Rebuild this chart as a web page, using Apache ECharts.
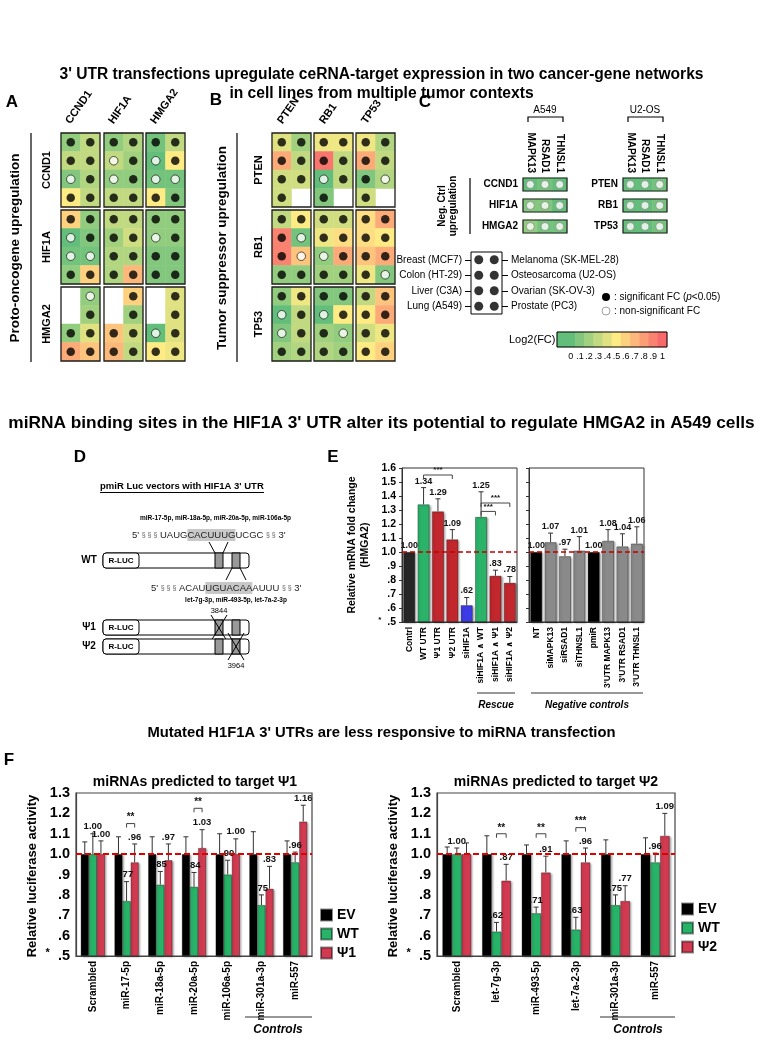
<!DOCTYPE html>
<html><head><meta charset="utf-8">
<script src="https://cdn.jsdelivr.net/npm/echarts@6/dist/echarts.min.js"></script>
<style>html,body{margin:0;padding:0;background:#fff}#c{width:763px;height:1057px}</style>
</head><body><div id="c"></div><script>
// ================= DATA =================
const oncoGenes = ['CCND1', 'HIF1A', 'HMGA2'];
const suppGenes = ['PTEN', 'RB1', 'TP53'];
const cellLinesLeft = ['Breast (MCF7)', 'Colon (HT-29)', 'Liver (C3A)', 'Lung (A549)'];
const cellLinesRight = ['Melanoma (SK-MEL-28)', 'Osteosarcoma (U2-OS)', 'Ovarian (SK-OV-3)', 'Prostate (PC3)'];

// log2(FC) per block [transfected 3'UTR][target] -> 4 rows x 2 cell-line columns; -1 = negative (grey), null = not measured
const panelA_FC = [
  [ [[0.15,0.30],[0.30,0.30],[0.10,0.25],[0.50,0.30]],
    [[0.15,0.25],[0.30,0.20],[0.15,0.15],[0.30,0.30]],
    [[0.05,0.30],[-1,0.50],[0.05,0.05],[0.50,0.10]] ],
  [ [[0.60,0.15],[-1,0.10],[0.05,0.05],[0.15,0.60]],
    [[0.30,0.30],[0.20,0.35],[0.25,0.25],[0.25,0.70]],
    [[0.15,0.15],[0.15,0.15],[0.10,0.10],[0.10,0.10]] ],
  [ [[null,0.15],[null,0.20],[0.15,0.40],[0.75,0.65]],
    [[null,0.60],[null,0.20],[0.65,0.35],[0.70,0.30]],
    [[null,0.40],[null,0.40],[-1,0.40],[0.50,0.45]] ]
];
// 1 = significant (filled), 0 = non-significant (open), null = none
const panelA_sig = [
  [ [[1,1],[1,1],[0,1],[1,1]], [[1,1],[0,1],[0,1],[1,1]], [[1,1],[0,1],[0,0],[1,1]] ],
  [ [[1,1],[0,1],[0,0],[1,1]], [[1,1],[1,1],[1,1],[1,1]], [[1,1],[0,1],[1,1],[1,1]] ],
  [ [[null,0],[null,1],[1,1],[1,1]], [[null,1],[null,1],[1,1],[1,1]], [[null,1],[null,1],[0,1],[1,1]] ]
];
const panelB_FC = [
  [ [[0.40,0.20],[0.75,0.30],[0.35,0.35],[0.35,null]],
    [[0.45,0.45],[0.95,0.30],[-1,0.30],[0.10,null]],
    [[0.45,0.25],[0.75,0.30],[0.10,0.25],[0.35,null]] ],
  [ [[0.30,0.50],[0.90,0.05],[0.90,0.65],[0.15,0.15]],
    [[0.35,0.35],[0.45,0.55],[0.15,0.75],[0.20,0.20]],
    [[0.55,0.75],[0.55,0.50],[0.65,0.75],[0.45,0.10]] ],
  [ [[0.15,0.45],[-1,0.30],[0.10,0.30],[0.20,0.25]],
    [[0.10,0.10],[-1,0.50],[0.20,0.15],[0.25,0.20]],
    [[0.30,0.65],[0.50,0.75],[0.35,0.45],[0.50,0.60]] ]
];
const panelB_sig = [
  [ [[1,1],[1,1],[1,1],[1,null]], [[1,1],[1,1],[0,1],[1,null]], [[1,1],[1,1],[1,0],[1,null]] ],
  [ [[1,1],[1,0],[1,0],[1,1]], [[1,1],[1,1],[0,1],[1,1]], [[1,1],[1,1],[1,1],[1,0]] ],
  [ [[1,1],[0,1],[0,1],[1,1]], [[1,1],[0,1],[1,0],[1,1]], [[1,1],[1,1],[1,1],[1,1]] ]
];
const negCtrlTargets = ['MAPK13', 'RSAD1', 'THNSL1'];
const negA549Genes = ['CCND1', 'HIF1A', 'HMGA2'];
const negU2OSGenes = ['PTEN', 'RB1', 'TP53'];
const negA549_FC = [[-1,0.05,-1],[0.10,0.10,-1],[0.15,0.05,0.05]];
const negU2OS_FC = [[-1,-1,0.05],[-1,-1,0.05],[-1,-1,0.05]];
const negA549_sig = [[0,0,0],[0,0,0],[0,0,0]];
const negU2OS_sig = [[0,0,0],[0,0,0],[0,0,0]];
const colorbarLabels = ['', '0', '.1', '.2', '.3', '.4', '.5', '.6', '.7', '.8', '.9', '1'];
const colorbarValues = [-1, 0, 0.1, 0.2, 0.3, 0.4, 0.5, 0.6, 0.7, 0.8, 0.9, 1];

// Panel E
const eLeftCats = ['Contrl', 'WT UTR', 'Ψ1 UTR', 'Ψ2 UTR', 'siHIF1A', 'siHIF1A ∧ WT', 'siHIF1A ∧ Ψ1', 'siHIF1A ∧ Ψ2'];
const eLeftValues = [1.00, 1.34, 1.29, 1.09, 0.62, 1.25, 0.83, 0.78];
const eLeftErrTop = [null, 1.46, 1.38, 1.16, 0.675, 1.43, 0.87, 0.825];
const eRightCats = ['NT', 'siMAPK13', 'siRSAD1', 'siTHNSL1', 'pmiR', "3'UTR MAPK13", "3'UTR RSAD1", "3'UTR THNSL1"];
const eRightValues = [1.00, 1.07, 0.97, 1.01, 1.00, 1.08, 1.04, 1.06];
const eRightErrTop = [null, 1.135, 1.02, 1.11, null, 1.16, 1.13, 1.18];
const eBrackets = [[1, 3, 1.55, '***'], [5, 7, 1.35, '***'], [5, 6, 1.29, '***']];

// Panel F
const f1Cats = ['Scrambled', 'miR-17-5p', 'miR-18a-5p', 'miR-20a-5p', 'miR-106a-5p', 'miR-301a-3p', 'miR-557'];
const f1EV = [1.00, 1.00, 1.00, 1.00, 1.00, 1.00, 1.00];
const f1EVErr = [1.06, 1.085, 1.085, 1.085, 1.10, 1.11, 1.065];
const f1WT = [1.00, 0.77, 0.85, 0.84, 0.90, 0.75, 0.96];
const f1WTErr = [1.10, 0.865, 0.915, 0.91, 0.97, 0.80, 1.01];
const f1Psi = [1.00, 0.96, 0.97, 1.03, 1.00, 0.83, 1.16];
const f1PsiErr = [1.065, 1.05, 1.05, 1.12, 1.075, 0.94, 1.24];
const f1Brackets = [[1, 1.15, '**'], [3, 1.225, '**']];
const f2Cats = ['Scrambled', 'let-7g-3p', 'miR-493-5p', 'let-7a-2-3p', 'miR-301a-3p', 'miR-557'];
const f2EV = [1.00, 1.00, 1.00, 1.00, 1.00, 1.00];
const f2EVErr = [1.035, 1.09, 1.045, 1.065, 1.07, 1.08];
const f2WT = [1.00, 0.62, 0.71, 0.63, 0.75, 0.96];
const f2WTErr = [1.03, 0.665, 0.74, 0.69, 0.80, 1.005];
const f2Psi = [1.00, 0.87, 0.91, 0.96, 0.77, 1.09];
const f2PsiErr = [1.055, 0.95, 0.99, 1.03, 0.845, 1.20];
const f2Brackets = [[1, 1.10, '**'], [2, 1.10, '**'], [3, 1.13, '***']];

// ================= BUILD =================
const FONT = "'Liberation Sans', Arial, 'DejaVu Sans', sans-serif";
const grids = [], xAxes = [], yAxes = [], series = [], heatIdx = [], graphics = [];
function addGrid(g) { grids.push(Object.assign({ outerBoundsMode: 'none', containLabel: false }, g)); return grids.length - 1; }
function addX(a) { xAxes.push(a); return xAxes.length - 1; }
function addY(a) { yAxes.push(a); return yAxes.length - 1; }

function T(x, y, text, o) {
  o = o || {};
  const al = o.align || 'center', va = o.va || 'middle';
  return { type: 'text', x, y, rotation: o.rot || 0, silent: true, z: 100,
    style: Object.assign({ text, fill: o.color || '#000', fontFamily: FONT, fontSize: o.size || 10,
      fontWeight: o.weight || 'normal', fontStyle: o.italic ? 'italic' : 'normal',
      align: al, verticalAlign: va, textAlign: al, textVerticalAlign: va }, o.style || {}) };
}
function L(x1, y1, x2, y2, w, c) { return { type: 'line', silent: true, z: 100, shape: { x1, y1, x2, y2 }, style: { stroke: c || '#000', lineWidth: w || 1 } }; }
function R(x, y, w, h, fill, stroke, r, lw) { return { type: 'rect', silent: true, z: 100, shape: { x, y, width: w, height: h, r: r || 0 }, style: { fill, stroke, lineWidth: lw || 1 } }; }
function P(points, c, w) { return { type: 'polyline', silent: true, z: 100, shape: { points }, style: { stroke: c || '#000', lineWidth: w || 1, fill: null } }; }

const filledDot = { color: '#000' };
function openDot(bc) { return { color: '#fff', borderColor: bc, borderWidth: 0.8 }; }

function heatBlock(box, fc, sig, opts) {
  opts = opts || {};
  const gi = addGrid({ left: box[0], top: box[1], width: box[2], height: box[3], show: true,
    borderColor: '#1e1e1e', borderWidth: opts.bw || 1.3, backgroundColor: 'transparent', z: 6 });
  const nR = fc.length, nC = fc[0].length;
  const xi = addX(Object.assign({ gridIndex: gi, type: 'category', data: Array.from({ length: nC }, (_, i) => 'c' + i), show: false }, opts.x || {}));
  const yi = addY(Object.assign({ gridIndex: gi, type: 'category', data: Array.from({ length: nR }, (_, i) => 'r' + i), inverse: true, show: false }, opts.y || {}));
  const hd = [], sd = [];
  fc.forEach((row, r) => row.forEach((v, c) => {
    if (v !== null) hd.push([c, r, v]);
    const s = sig[r][c];
    if (s !== null && s !== undefined) sd.push({ value: [c, r], itemStyle: s ? filledDot : openDot(opts.openColor || '#000') });
  }));
  series.push({ type: 'heatmap', xAxisIndex: xi, yAxisIndex: yi, data: hd, silent: true, emphasis: { disabled: true }, itemStyle: { borderWidth: 0 } });
  heatIdx.push(series.length - 1);
  series.push({ type: 'scatter', xAxisIndex: xi, yAxisIndex: yi, data: sd, symbol: 'circle', symbolSize: opts.dot || 8.5, silent: true, z: 4 });
}

// ---------- Panels A & B ----------
const blockW = 39, blockH = 74;
const blockTops = [133, 210, 287];
const aLefts = [61, 104, 146];
const bLefts = [272, 314, 356];
for (let r = 0; r < 3; r++) for (let c = 0; c < 3; c++) {
  heatBlock([aLefts[c], blockTops[r], blockW, blockH], panelA_FC[r][c], panelA_sig[r][c]);
  heatBlock([bLefts[c], blockTops[r], blockW, blockH], panelB_FC[r][c], panelB_sig[r][c]);
}
const rot55 = 55 * Math.PI / 180;
oncoGenes.forEach((g, i) => {
  graphics.push(T(aLefts[i] + blockW / 2 - 8, 126, g, { size: 11, weight: 'bold', align: 'left', va: 'bottom', rot: rot55 }));
  graphics.push(T(47, blockTops[i] + blockH / 2, g, { size: 11, weight: 'bold', rot: Math.PI / 2 }));
});
suppGenes.forEach((g, i) => {
  graphics.push(T(bLefts[i] + blockW / 2 - 7, 126, g, { size: 11, weight: 'bold', align: 'left', va: 'bottom', rot: rot55 }));
  graphics.push(T(259, blockTops[i] + blockH / 2, g, { size: 11, weight: 'bold', rot: Math.PI / 2 }));
});
graphics.push(T(12, 102, 'A', { size: 17, weight: 'bold' }));
graphics.push(T(216, 100, 'B', { size: 17, weight: 'bold' }));
graphics.push(L(31, 133, 31, 362, 1.2));
graphics.push(L(237, 133, 237, 362, 1.2));
graphics.push(T(15, 248, 'Proto-oncogene upregulation', { size: 13.5, weight: 'bold', rot: Math.PI / 2 }));
graphics.push(T(222, 248, 'Tumor suppressor upregulation', { size: 13.5, weight: 'bold', rot: Math.PI / 2 }));

// ---------- Panel C ----------
graphics.push(T(425, 102, 'C', { size: 17, weight: 'bold' }));
const cTops = [178, 199, 220];
const cBox = [44, 13];
[[523, negA549Genes, negA549_FC, negA549_sig], [623, negU2OSGenes, negU2OS_FC, negU2OS_sig]].forEach(([left, genes, fc, sg]) => {
  genes.forEach((g, r) => {
    heatBlock([left, cTops[r], cBox[0], cBox[1]], [fc[r]], [sg[r]], {
      bw: 1.2, dot: 8, openColor: '#777',
      x: r === 0 ? { show: true, position: 'top', data: negCtrlTargets, axisLine: { show: false }, axisTick: { show: false },
        axisLabel: { show: true, rotate: 90, interval: 0, margin: 5, fontSize: 10, fontWeight: 'bold', color: '#000', fontFamily: FONT } } : {},
      y: { show: true, data: [g], axisLine: { show: false }, axisTick: { show: false },
        axisLabel: { show: true, margin: 5, fontSize: 10, fontWeight: 'bold', color: '#000', fontFamily: FONT } }
    });
  });
});
graphics.push(T(545, 110, 'A549', { size: 10 }));
graphics.push(P([[528, 122], [528, 117], [563, 117], [563, 122]], '#000', 1.2));
graphics.push(T(645, 110, 'U2-OS', { size: 10 }));
graphics.push(P([[628, 122], [628, 117], [663, 117], [663, 122]], '#000', 1.2));
graphics.push(L(470, 178, 470, 234, 1.2));
graphics.push(T(448, 206, 'Neg. Ctrl\nupregulation', { size: 10, weight: 'bold', rot: Math.PI / 2, style: { lineHeight: 11 } }));

// cell-line legend
{
  const gi = addGrid({ left: 471, top: 252, width: 31, height: 62, show: true, borderColor: '#000', borderWidth: 1, backgroundColor: 'transparent', z: 6 });
  const xi = addX({ gridIndex: gi, type: 'category', data: ['c0', 'c1'], show: false });
  const tickStyle = { show: true, alignWithLabel: true, length: 6, lineStyle: { color: '#000', width: 1 } };
  const lab = { fontSize: 10, color: '#000', margin: 9, fontFamily: FONT };
  const yi = addY({ gridIndex: gi, type: 'category', data: cellLinesLeft, inverse: true, axisLine: { show: false }, axisTick: tickStyle, axisLabel: lab });
  addY({ gridIndex: gi, type: 'category', position: 'right', data: cellLinesRight, inverse: true, axisLine: { show: false }, axisTick: tickStyle, axisLabel: lab });
  const d = [];
  cellLinesLeft.forEach((_, r) => { d.push([0, r]); d.push([1, r]); });
  series.push({ type: 'scatter', xAxisIndex: xi, yAxisIndex: yi, data: d, symbolSize: 9, itemStyle: { color: '#000' }, silent: true });
}
graphics.push({ type: 'circle', silent: true, z: 100, shape: { cx: 606, cy: 297, r: 4 }, style: { fill: '#000' } });
graphics.push(T(614, 297, ': significant FC ({i|p}<0.05)', { size: 10, align: 'left', style: { rich: { i: { fontStyle: 'italic', fontSize: 10, fontFamily: FONT } } } }));
graphics.push({ type: 'circle', silent: true, z: 100, shape: { cx: 606, cy: 311, r: 4 }, style: { fill: '#fff', stroke: '#888', lineWidth: 0.8 } });
graphics.push(T(614, 311, ': non-significant FC', { size: 10, align: 'left' }));

// colour bar
{
  const gi = addGrid({ left: 557, top: 332, width: 110, height: 15, show: true, borderColor: '#000', borderWidth: 1, backgroundColor: 'transparent', z: 6 });
  const xi = addX({ gridIndex: gi, type: 'category', data: colorbarLabels, axisLine: { show: false }, axisTick: { show: false },
    axisLabel: { interval: 0, fontSize: 9, margin: 5, color: '#000', fontFamily: FONT } });
  const yi = addY({ gridIndex: gi, type: 'category', data: ['v'], show: false });
  series.push({ type: 'heatmap', xAxisIndex: xi, yAxisIndex: yi, data: colorbarValues.map((v, i) => [i, 0, v]), silent: true, emphasis: { disabled: true } });
  heatIdx.push(series.length - 1);
}
graphics.push(T(509, 340, 'Log2(FC)', { size: 11, align: 'left' }));

// ---------- Panel D (schematic) ----------
const seqRich = { w: { fontSize: 7, fill: '#666', fontFamily: FONT }, h: { backgroundColor: '#c8c8c8', fontSize: 9.5, fontFamily: FONT, padding: [1, 0, 1, 0] } };
graphics.push(T(80, 457, 'D', { size: 17, weight: 'bold' }));
graphics.push(T(100, 486, "pmiR Luc vectors with HIF1A 3' UTR", { size: 9.5, weight: 'bold', align: 'left' }));
graphics.push(L(100, 492.5, 264, 492.5, 1));
graphics.push(T(140, 518, 'miR-17-5p, miR-18a-5p, miR-20a-5p, miR-106a-5p', { size: 6.5, weight: 'bold', align: 'left' }));
graphics.push(T(132, 535, "5' {w|§ § §} UAUG{h|CACUUUG}UCGC {w|§ §} 3'", { size: 9.5, align: 'left', color: '#222', style: { rich: seqRich } }));
function construct(y, label, cross) {
  graphics.push(T(89, y + 7.5, label, { size: 10, weight: 'bold' }));
  graphics.push(R(103, y, 146, 15, '#fff', '#000', 3, 1));
  graphics.push(R(103, y, 36, 15, '#fff', '#000', 3, 1));
  graphics.push(T(121, y + 7.5, 'R-LUC', { size: 8, weight: 'bold' }));
  graphics.push(R(215, y, 8, 15, '#999', '#000', 0, 1));
  graphics.push(R(232, y, 8, 15, '#999', '#000', 0, 1));
  if (cross === 1) { graphics.push(L(211, y - 5, 227, y + 21, 1)); graphics.push(L(227, y - 5, 211, y + 21, 1)); }
  if (cross === 2) { graphics.push(L(228, y - 6, 244, y + 21, 1)); graphics.push(L(244, y - 6, 228, y + 21, 1)); }
}
construct(553, 'WT', 0);
graphics.push(L(209, 542, 215, 553)); graphics.push(L(228, 542, 223, 553));
graphics.push(L(232, 568, 226, 580)); graphics.push(L(240, 568, 246, 580));
graphics.push(T(151, 588, "5' {w|§ § §} ACAU{h|UGUACAA}AUUU {w|§ §} 3'", { size: 9.5, align: 'left', color: '#222', style: { rich: seqRich } }));
graphics.push(T(236, 600, 'let-7g-3p, miR-493-5p, let-7a-2-3p', { size: 6.5, weight: 'bold' }));
construct(620, 'Ψ1', 1);
graphics.push(T(219, 611, '3844', { size: 7.5 }));
construct(639, 'Ψ2', 2);
graphics.push(T(236, 666, '3964', { size: 7.5 }));

// ---------- Bars helpers ----------
const fmtVal = v => v >= 1 ? v.toFixed(2) : v.toFixed(2).replace(/^0/, '');
const yFmt = v => { const r = Math.round(v * 10) / 10; if (r >= 1) return r.toFixed(1); if (Math.abs(r - 0.5) < 1e-9) return '{s|*}  .5'; return '.' + Math.round(r * 10); };
const barFx = { borderColor: 'rgba(0,0,0,0.45)', borderWidth: 0.7, shadowColor: 'rgba(0,0,0,0.35)', shadowBlur: 2, shadowOffsetX: 1.5, shadowOffsetY: 1 };

function errorSeries(xi, yi, values, errs, k, n, gap, fontSize, showLabel) {
  const data = values.map((v, i) => [i, v, errs[i] == null ? v : errs[i], errs[i] == null ? 0 : 1]);
  return { type: 'custom', xAxisIndex: xi, yAxisIndex: yi, silent: true, z: 6, clip: false, data,
    renderItem(params, api) {
      const i = api.value(0), v = api.value(1), e = api.value(2), has = api.value(3);
      const band = api.size([1, 0])[0];
      const bw = band * (1 - gap) / n;
      const p = api.coord([i, v]);
      const cx = p[0] + (k - (n - 1) / 2) * bw;
      const ye = api.coord([i, e])[1];
      const ch = [];
      if (has) {
        ch.push({ type: 'line', shape: { x1: cx, y1: p[1], x2: cx, y2: ye }, style: { stroke: '#333', lineWidth: 1 } });
        ch.push({ type: 'line', shape: { x1: cx - 2.5, y1: ye, x2: cx + 2.5, y2: ye }, style: { stroke: '#333', lineWidth: 1 } });
      }
      if (showLabel[params.dataIndex]) {
        ch.push({ type: 'text', x: cx, y: ye - 2, style: { text: fmtVal(v), fill: '#111', fontSize, fontWeight: 'bold', fontFamily: FONT,
          align: 'center', verticalAlign: 'bottom', textAlign: 'center', textVerticalAlign: 'bottom' } });
      }
      return { type: 'group', children: ch };
    } };
}
function bracketSeries(xi, yi, list, n, gap, kA, kB, fontSize) {
  return { type: 'custom', xAxisIndex: xi, yAxisIndex: yi, silent: true, z: 6, clip: false,
    data: list.map(b => [b[0], b[1], b[2]]),
    renderItem(params, api) {
      const c1 = api.value(0), c2 = api.value(1), y = api.value(2);
      const band = api.size([1, 0])[0];
      const bw = band * (1 - gap) / n;
      const x1 = api.coord([c1, y])[0] + (kA - (n - 1) / 2) * bw;
      const x2 = api.coord([c2, y])[0] + (kB - (n - 1) / 2) * bw;
      const yy = api.coord([c1, y])[1];
      return { type: 'group', children: [
        { type: 'polyline', shape: { points: [[x1, yy + 4], [x1, yy], [x2, yy], [x2, yy + 4]] }, style: { stroke: '#444', lineWidth: 1, fill: null } },
        { type: 'text', x: (x1 + x2) / 2, y: yy - 1, style: { text: list[params.dataIndex][3], fill: '#111', fontSize, fontWeight: 'bold', fontFamily: FONT,
          align: 'center', verticalAlign: 'bottom', textAlign: 'center', textVerticalAlign: 'bottom' } }
      ] };
    } };
}
const redLine = (color, w, type) => ({ silent: true, symbol: ['none', 'none'], label: { show: false }, z: 8,
  lineStyle: { color, width: w, type }, data: [{ yAxis: 1 }] });

// ---------- Panel E ----------
graphics.push(T(333, 457, 'E', { size: 17, weight: 'bold' }));
const eColorsL = ['#262626', '#2bb36a', '#c1272d', '#c1272d', '#3c3ce6', '#2bb36a', '#c1272d', '#c1272d'];
const eColorsR = ['#000', '#8a8a8a', '#8a8a8a', '#8a8a8a', '#000', '#8a8a8a', '#8a8a8a', '#8a8a8a'];
const eGap = 0.17;
[[402, eLeftCats, eLeftValues, eLeftErrTop, eColorsL, true], [529, eRightCats, eRightValues, eRightErrTop, eColorsR, false]].forEach(([left, cats, vals, errs, cols, first]) => {
  const gi = addGrid({ left, top: 468, width: 115, height: 154, show: true, borderColor: '#333', borderWidth: 1, backgroundColor: 'transparent', z: 7 });
  const xi = addX({ gridIndex: gi, type: 'category', data: cats, axisTick: { show: false }, axisLine: { lineStyle: { color: '#333' } },
    axisLabel: { rotate: 90, interval: 0, fontSize: 8.5, fontWeight: 'bold', color: '#000', margin: 5, fontFamily: FONT } });
  const yi = addY({ gridIndex: gi, type: 'value', min: 0.5, max: 1.6, interval: 0.1, splitLine: { show: false },
    axisLine: { show: true, lineStyle: { color: '#333' } }, axisTick: { show: true, length: 3, lineStyle: { color: '#333' } },
    axisLabel: { show: first, fontSize: 10.5, fontWeight: 'bold', color: '#000', margin: 6, fontFamily: FONT, formatter: yFmt,
      rich: { s: { fontSize: 8, fontWeight: 'bold', fontFamily: FONT, padding: [0, 0, 4, 0] } } } });
  series.push({ type: 'bar', name: 'E' + left, xAxisIndex: xi, yAxisIndex: yi, data: vals, barCategoryGap: (eGap * 100) + '%',
    itemStyle: Object.assign({ color: p => cols[p.dataIndex] }, barFx), silent: true,
    markLine: redLine('#c00000', 1.5, [5, 3]) });
  series.push(errorSeries(xi, yi, vals, errs, 0, 1, eGap, 9, vals.map(() => true)));
  if (first) series.push(bracketSeries(xi, yi, eBrackets, 1, eGap, 0, 0, 8));
});
graphics.push(T(352, 545, 'Relative mRNA fold change', { size: 10.5, weight: 'bold', rot: Math.PI / 2 }));
graphics.push(T(365, 545, '(HMGA2)', { size: 10.5, weight: 'bold', rot: Math.PI / 2 }));
graphics.push(L(477, 693, 515, 693, 1.2, '#333'));
graphics.push(T(496, 705, 'Rescue', { size: 10, weight: 'bold', italic: true }));
graphics.push(L(531, 693, 643, 693, 1.2, '#333'));
graphics.push(T(587, 705, 'Negative controls', { size: 10, weight: 'bold', italic: true }));

// ---------- Panel F ----------
graphics.push(T(9, 760, 'F', { size: 17, weight: 'bold' }));
const fColors = { EV: '#000', WT: '#28b468', PSI: '#d13a50' };
function fChart(left, width, cats, ev, evE, wt, wtE, psi, psiE, psiName, brackets, gap, psiLabels) {
  const gi = addGrid({ left, top: 793, width, height: 163, show: true, borderColor: '#444', borderWidth: 1.2, backgroundColor: 'transparent', z: 7 });
  const xi = addX({ gridIndex: gi, type: 'category', data: cats, axisTick: { show: false }, axisLine: { lineStyle: { color: '#444', width: 1.2 } },
    axisLabel: { rotate: 90, interval: 0, fontSize: 10, fontWeight: 'bold', color: '#000', margin: 5, fontFamily: FONT } });
  const yi = addY({ gridIndex: gi, type: 'value', min: 0.5, max: 1.3, interval: 0.1, splitLine: { show: false },
    axisLine: { show: true, lineStyle: { color: '#444', width: 1.2 } }, axisTick: { show: false },
    axisLabel: { fontSize: 14.5, fontWeight: 'bold', color: '#000', margin: 6, fontFamily: FONT, formatter: yFmt,
      rich: { s: { fontSize: 11, fontWeight: 'bold', fontFamily: FONT, padding: [0, 0, 6, 0] } } } });
  const g = (gap * 100) + '%';
  series.push({ type: 'bar', name: 'EV', xAxisIndex: xi, yAxisIndex: yi, data: ev, barGap: '0%', barCategoryGap: g, silent: true, itemStyle: Object.assign({ color: fColors.EV }, barFx) });
  series.push({ type: 'bar', name: 'WT', xAxisIndex: xi, yAxisIndex: yi, data: wt, barGap: '0%', barCategoryGap: g, silent: true, itemStyle: Object.assign({ color: fColors.WT }, barFx) });
  series.push({ type: 'bar', name: psiName, xAxisIndex: xi, yAxisIndex: yi, data: psi, barGap: '0%', barCategoryGap: g, silent: true, itemStyle: Object.assign({ color: fColors.PSI }, barFx),
    markLine: redLine('#e00000', 2, [6, 3]) });
  series.push(errorSeries(xi, yi, ev, evE, 0, 3, gap, 9.5, ev.map(() => false)));
  series.push(errorSeries(xi, yi, wt, wtE, 1, 3, gap, 9.5, wt.map(() => true)));
  series.push(errorSeries(xi, yi, psi, psiE, 2, 3, gap, 9.5, psiLabels));
  series.push(bracketSeries(xi, yi, brackets.map(b => [b[0], b[0], b[1], b[2]]), 3, gap, 1, 2, 10));
}
fChart(76, 236, f1Cats, f1EV, f1EVErr, f1WT, f1WTErr, f1Psi, f1PsiErr, 'Ψ1', f1Brackets, 0.28, f1Psi.map(() => true));
fChart(437, 238, f2Cats, f2EV, f2EVErr, f2WT, f2WTErr, f2Psi, f2PsiErr, 'Ψ2', f2Brackets, 0.27, f2Psi.map((_, i) => i !== 0));
graphics.push(T(195, 782, 'miRNAs predicted to target Ψ1', { size: 14, weight: 'bold' }));
graphics.push(T(556, 782, 'miRNAs predicted to target Ψ2', { size: 14, weight: 'bold' }));
graphics.push(T(32, 876, 'Relative luciferase activity', { size: 13, weight: 'bold', rot: Math.PI / 2 }));
graphics.push(T(393, 876, 'Relative luciferase activity', { size: 13, weight: 'bold', rot: Math.PI / 2 }));
graphics.push(L(245, 1017, 312, 1017, 1.2, '#333'));
graphics.push(T(278, 1030, 'Controls', { size: 12, weight: 'bold', italic: true }));
graphics.push(L(600, 1017, 675, 1017, 1.2, '#333'));
graphics.push(T(638, 1030, 'Controls', { size: 12, weight: 'bold', italic: true }));

// ================= OPTION =================
const legendStyle = { orient: 'vertical', icon: 'rect', itemWidth: 11, itemHeight: 11, itemGap: 5, selectedMode: false, padding: 0,
  textStyle: { fontSize: 14, fontWeight: 'bold', color: '#000', fontFamily: FONT } };
const option = {
  animation: false,
  backgroundColor: '#fff',
  textStyle: { fontFamily: FONT },
  title: [
    { text: "3' UTR transfections upregulate ceRNA-target expression in two cancer-gene networks\nin cell lines from multiple tumor contexts",
      left: 'center', top: 65, padding: 0, textStyle: { fontSize: 15.6, fontWeight: 'bold', lineHeight: 19, color: '#000', fontFamily: FONT } },
    { text: "miRNA binding sites in the HIF1A 3' UTR alter its potential to regulate HMGA2 in A549 cells",
      left: 'center', top: 413, padding: 0, textStyle: { fontSize: 17.3, fontWeight: 'bold', lineHeight: 20, color: '#000', fontFamily: FONT } },
    { text: "Mutated H1F1A 3' UTRs are less responsive to miRNA transfection",
      left: 'center', top: 724, padding: 0, textStyle: { fontSize: 14.8, fontWeight: 'bold', lineHeight: 18, color: '#000', fontFamily: FONT } }
  ],
  legend: [
    Object.assign({ data: ['EV', 'WT', 'Ψ1'], left: 320, top: 908 }, legendStyle),
    Object.assign({ data: ['EV', 'WT', 'Ψ2'], left: 681, top: 902 }, legendStyle)
  ],
  visualMap: { type: 'continuous', show: false, min: 0, max: 1, dimension: 2, seriesIndex: heatIdx,
    inRange: { color: ['#63BE7B', '#FFEB84', '#F8696B'] }, outOfRange: { color: ['#D9D9D9'] } },
  grid: grids, xAxis: xAxes, yAxis: yAxes, series, graphic: { elements: graphics }
};
const chart = echarts.init(document.getElementById('c'), null, { renderer: 'canvas' });
chart.setOption(option);
</script></body></html>
